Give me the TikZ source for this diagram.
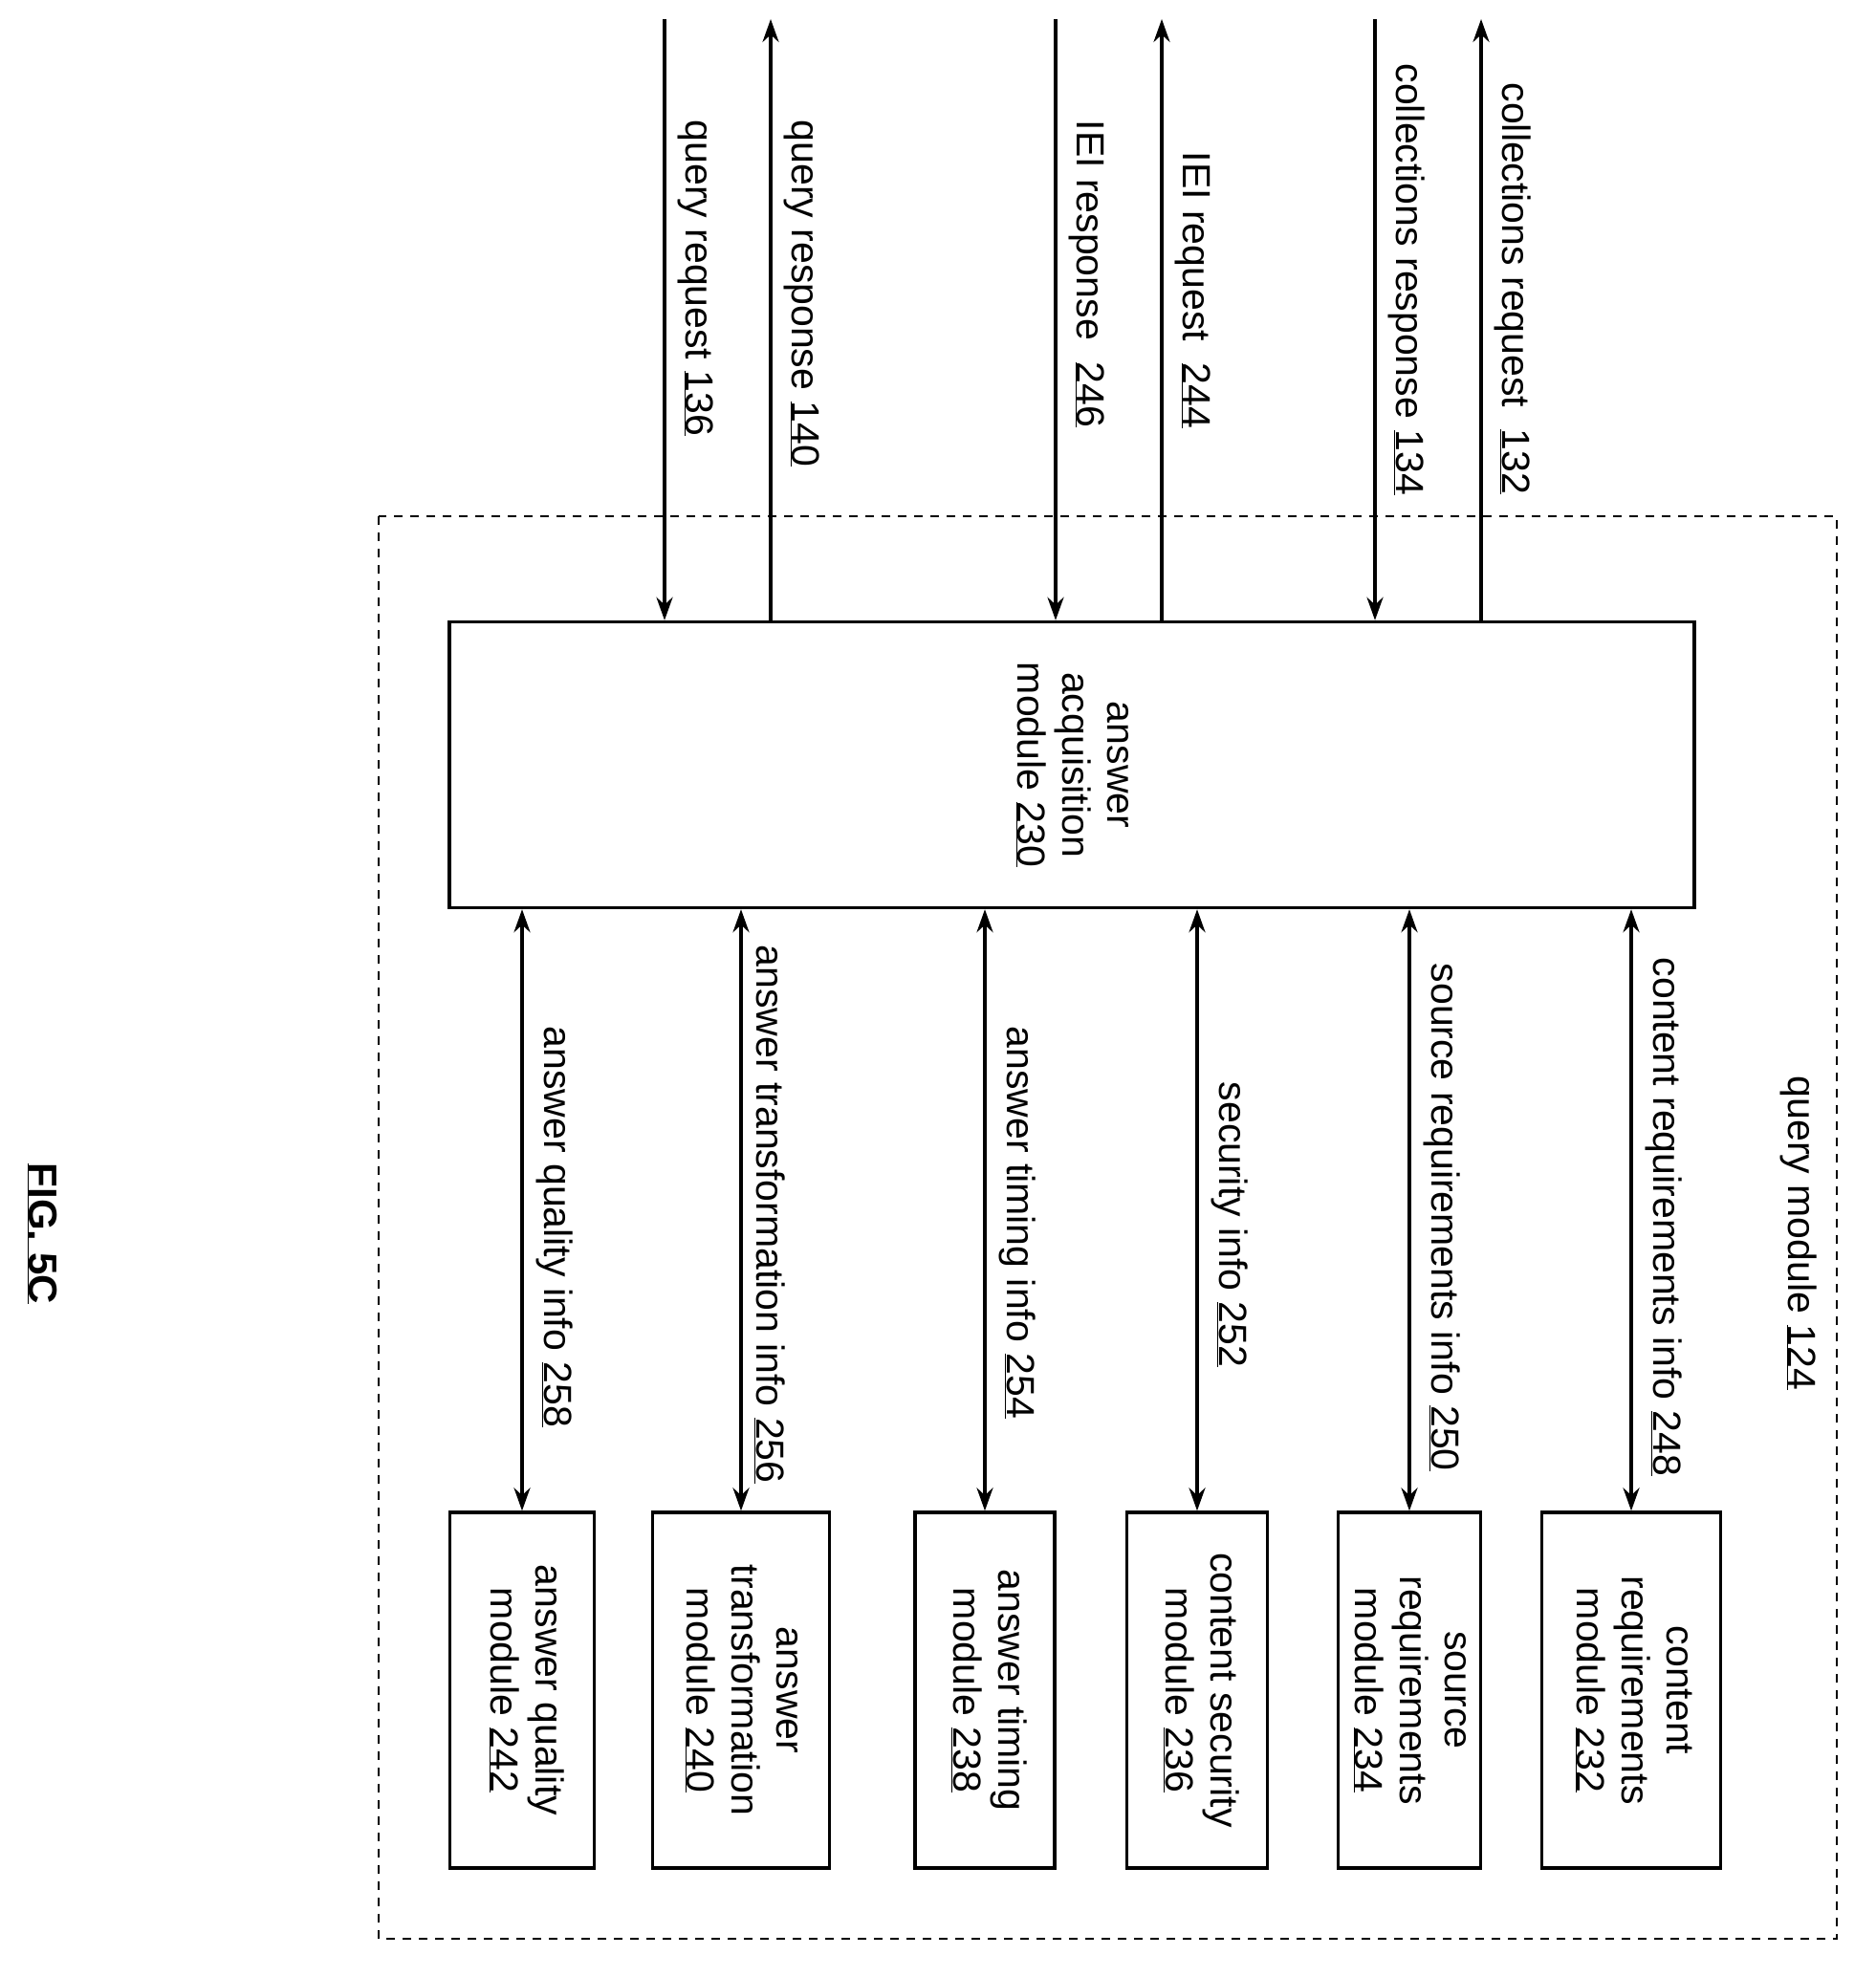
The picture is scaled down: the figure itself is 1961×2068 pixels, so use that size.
\documentclass[tikz,border=0pt]{standalone}
\usepackage{fontspec}
\setmainfont{Liberation Sans}
\usetikzlibrary{arrows.meta}

\begin{document}
\begin{tikzpicture}[x=1pt, y=-1pt, >={Stealth[length=24pt, width=17pt]}, line width=3.4pt,
	box/.style={draw, inner sep=0pt, align=center, font=\fontsize{41}{47}\selectfont},
	lbl/.style={rotate=-90, anchor=west, inner sep=0pt, font=\fontsize{41}{47}\selectfont}]
			\useasboundingbox (0,0) rectangle (1961,2068);
			
			\draw[line width=2.4pt, dash pattern=on 9pt off 8pt] (396,540) rectangle (1921,2028);
			\node[lbl] (qm) at (1881,1124) {query module \underline{124}};
			
			\node[box, minimum width=1302pt, minimum height=299pt] (aam) at (1121,800) {\rotatebox{-90}{\begin{tabular}{c}answer\\acquisition\\module \underline{230}\end{tabular}}};
			
			\node[box, minimum width=151pt, minimum height=372pt] (m242) at (546,1768) {\rotatebox{-90}{\begin{tabular}{c}answer quality\\module \underline{242}\end{tabular}}};
			\node[box, minimum width=185pt, minimum height=372pt] (m240) at (775,1768) {\rotatebox{-90}{\begin{tabular}{c}answer\\transformation\\module \underline{240}\end{tabular}}};
			\node[box, minimum width=146pt, minimum height=372pt] (m238) at (1030,1768) {\rotatebox{-90}{\begin{tabular}{c}answer timing\\module \underline{238}\end{tabular}}};
			\node[box, minimum width=147pt, minimum height=372pt] (m236) at (1252,1768) {\rotatebox{-90}{\begin{tabular}{c}content security\\module \underline{236}\end{tabular}}};
			\node[box, minimum width=149pt, minimum height=372pt] (m234) at (1474,1768) {\rotatebox{-90}{\begin{tabular}{c}source\\requirements\\module \underline{234}\end{tabular}}};
			\node[box, minimum width=187pt, minimum height=372pt] (m232) at (1706,1768) {\rotatebox{-90}{\begin{tabular}{c}content\\requirements\\module \underline{232}\end{tabular}}};
			
			\coordinate (qreq) at (695,20);
			\coordinate (qres) at (806,20);
			\coordinate (ieires) at (1104,20);
			\coordinate (ieireq) at (1215,20);
			\coordinate (cres) at (1438,20);
			\coordinate (creq) at (1549,20);
			
			\draw[->] (qreq) -- (qreq |- aam.north);
			\draw[<-] (qres) -- (qres |- aam.north);
			\draw[->] (ieires) -- (ieires |- aam.north);
			\draw[<-] (ieireq) -- (ieireq |- aam.north);
			\draw[->] (cres) -- (cres |- aam.north);
			\draw[<-] (creq) -- (creq |- aam.north);
			
			\node[lbl] (l136) at (728,124) {query request \underline{136}};
			\node[lbl] (l140) at (839,124) {query response \underline{140}};
			\node[lbl] (l246) at (1137,124) {IEI response\ \ \underline{246}};
			\node[lbl] (l244) at (1248,157) {IEI request\ \ \underline{244}};
			\node[lbl] (l134) at (1471,65) {collections response \underline{134}};
			\node[lbl] (l132) at (1582,85) {collections request\ \ \underline{132}};
			
			\draw[<->] (aam.south -| m242) -- (m242.north);
			\draw[<->] (aam.south -| m240) -- (m240.north);
			\draw[<->] (aam.south -| m238) -- (m238.north);
			\draw[<->] (aam.south -| m236) -- (m236.north);
			\draw[<->] (aam.south -| m234) -- (m234.north);
			\draw[<->] (aam.south -| m232) -- (m232.north);
			
			\node[lbl] (l258) at (580,1072) {answer quality info \underline{258}};
			\node[lbl] (l256) at (805,987) {answer transformation info \underline{256}};
			\node[lbl] (l254) at (1064,1072) {answer timing info \underline{254}};
			\node[lbl] (l252) at (1286,1130) {security info \underline{252}};
			\node[lbl] (l250) at (1508,1006) {source requirements info \underline{250}};
			\node[lbl] (l248) at (1740,1000) {content requirements info \underline{248}};
			
			\node[lbl, font=\bfseries\fontsize{42}{48}\selectfont] (fig) at (44,1215) {\underline{FIG. 5C}};
		\end{tikzpicture}
\end{document}
